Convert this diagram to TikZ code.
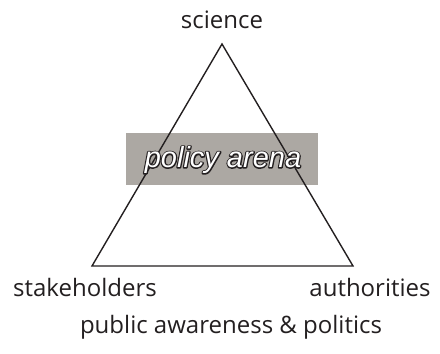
\documentclass[tikz,border=0pt]{standalone}
\usepackage{fontspec}
\setmainfont{Open Sans}
\newfontfamily\arenafont{Liberation Sans}
\definecolor{boxgray}{HTML}{ACA8A3}
\definecolor{inkgray}{HTML}{231F20}
\newcommand{\outlinetext}[1]{%
  \special{pdf:code q 2 Tr 2.4 w 1 j 0.137 0.122 0.125 RG}#1\special{pdf:code Q}}
\tikzset{
  corner label/.style={font=\fontsize{24}{28}\selectfont, text=inkgray, inner sep=0pt},
  arena box/.style={fill=boxgray, draw=none, minimum width=192pt, minimum height=52pt, inner sep=0pt},
  arena text/.style={inner sep=0pt, font=\arenafont\itshape\fontsize{29}{32}\selectfont}
}

\begin{document}
\begin{tikzpicture}[x=1pt, y=-1pt]
  \useasboundingbox (0,0) rectangle (440,354);
  % the arena in the middle
  \node[arena box] (arena) at (222,159) {};
  % triangle corners
  \coordinate (top) at (222,44);
  \coordinate (left) at (92,266);
  \coordinate (right) at (353,266);
  \draw[inkgray, line width=1.4pt, line join=miter] (top) -- (right) -- (left) -- cycle;
  % outlined title: dark rim below, white letters on top
  \node[arena text, text=inkgray] (arenarim) at (223,160) {\outlinetext{policy arena}};
  \node[arena text, text=white] (arenatext) at (arenarim.center) {policy arena};
  % labels
  \node[corner label] (science) at (222,20) {science};
  \node[corner label] (stake) at (85,287) {stakeholders};
  \node[corner label] (auth) at (370,287) {authorities};
  \node[corner label] (public) at (231,327) {public awareness \& politics};
\end{tikzpicture}
\end{document}
